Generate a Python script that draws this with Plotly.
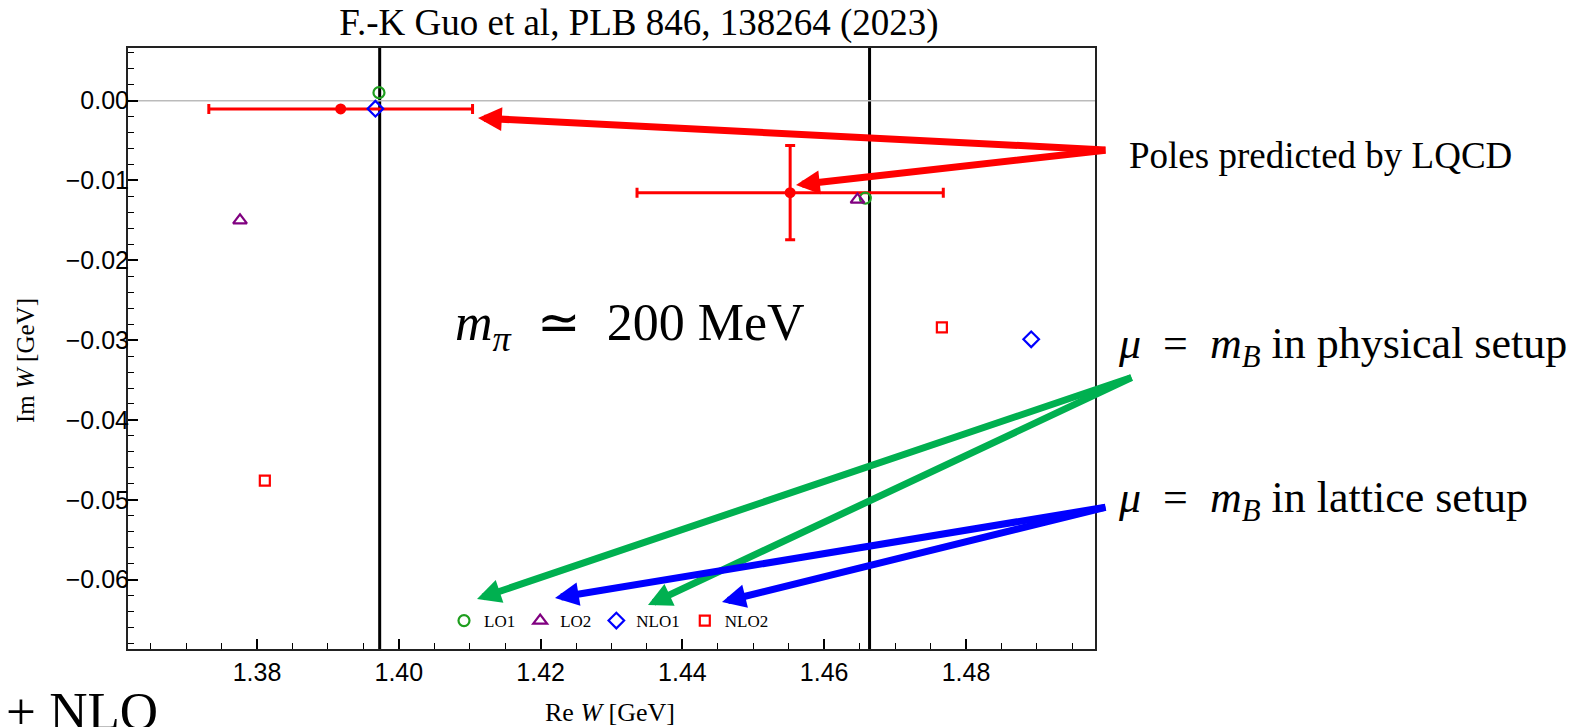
import plotly.graph_objects as go

# ---------------- data ----------------
pole_re = [1.3918, 1.4552]
pole_im = [-0.00104, -0.01153]
pole_re_err = [0.0186, 0.0216]
pole_im_err = [0.0, 0.0059]

series_names = ["LO1", "LO2", "NLO1", "NLO2"]
lo1_re = [1.3972, 1.4658]
lo1_im = [0.0010, -0.0122]
lo2_re = [1.3776, 1.4647]
lo2_im = [-0.0150, -0.0124]
nlo1_re = [1.3967, 1.4892]
nlo1_im = [-0.0010, -0.0299]
nlo2_re = [1.3811, 1.4766]
nlo2_im = [-0.0476, -0.0284]

thresholds_re = [1.3973, 1.4664]

x_tick_vals = [1.38, 1.40, 1.42, 1.44, 1.46, 1.48]
x_tick_text = ["1.38", "1.40", "1.42", "1.44", "1.46", "1.48"]
y_tick_vals = [0.00, -0.01, -0.02, -0.03, -0.04, -0.05, -0.06]
y_tick_text = ["0.00", "\u22120.01", "\u22120.02", "\u22120.03", "\u22120.04", "\u22120.05", "\u22120.06"]

x_range = [1.3618, 1.4982]
y_range = [-0.0687, 0.0066]

# ---------------- layout helpers ----------------
W, H = 1576, 727
L, R, T, B = 128, 1095, 48, 649


def fx(px):
    return (px - L) / (R - L)


def fy(py):
    return (B - py) / (B - T)


SERIF = "Liberation Serif, Times New Roman, serif"
SANS = "Liberation Sans, Arial, sans-serif"

fig = go.Figure()

for t in thresholds_re:
    fig.add_vline(x=t, line=dict(color="black", width=3), layer="below")
fig.add_hline(y=0, line=dict(color="#BBBBBB", width=1.5), layer="below")

for i in range(len(pole_re)):
    fig.add_trace(go.Scatter(
        x=[pole_re[i]], y=[pole_im[i]], mode="markers", showlegend=False,
        marker=dict(color="#FF0000", size=11, symbol="circle"),
        error_x=dict(type="data", array=[pole_re_err[i]], color="#FF0000",
                     thickness=3, width=5),
        error_y=dict(type="data", array=[pole_im_err[i]], color="#FF0000",
                     thickness=3, width=5, visible=pole_im_err[i] > 0),
    ))

styles = [
    ("circle-open", "#1E9E1E", 11),
    ("triangle-up-open", "#800080", 12),
    ("diamond-open", "#0000FF", 12),
    ("square-open", "#FF0000", 10),
]
values = [(lo1_re, lo1_im), (lo2_re, lo2_im), (nlo1_re, nlo1_im), (nlo2_re, nlo2_im)]
for name, (xs, ys), (sym, col, sz) in zip(series_names, values, styles):
    fig.add_trace(go.Scatter(
        x=xs, y=ys, mode="markers", name=name,
        marker=dict(symbol=sym, color=col, size=sz, line=dict(color=col, width=2.2)),
    ))

# arrows (tip pixel, tail pixel, colour)
arrows = [
    ((478, 118), (1107, 150), "#FF0000"),
    ((796, 185), (1107, 150), "#FF0000"),
    ((477, 599), (1133, 377), "#00B050"),
    ((648, 605), (1133, 377), "#00B050"),
    ((555, 598), (1107, 507), "#0000FF"),
    ((722, 602), (1107, 507), "#0000FF"),
]
annotations = []
for (tx, ty), (sx, sy), col in arrows:
    annotations.append(dict(
        x=fx(tx), y=fy(ty), xref="x domain", yref="y domain",
        ax=fx(sx), ay=fy(sy), axref="x domain", ayref="y domain",
        text="", showarrow=True, arrowhead=2, arrowsize=0.68,
        arrowwidth=7, arrowcolor=col, standoff=0,
    ))

SP = "\u2002"
texts = [
    ("Poles predicted by LQCD", 1127, 156, 37),
    ("<i>μ</i>" + SP + "=" + SP + "<i>m</i><sub><i>B</i></sub> in physical setup", 1116, 346, 44),
    ("<i>μ</i>" + SP + "=" + SP + "<i>m</i><sub><i>B</i></sub> in lattice setup", 1116, 500, 44),
]
for txt, px, py, fs in texts:
    annotations.append(dict(
        x=fx(px), y=fy(py), xref="paper", yref="paper", xanchor="left",
        yanchor="middle", text=txt, showarrow=False,
        font=dict(family=SERIF, size=fs, color="black"),
    ))

annotations.append(dict(
    x=fx(630), y=fy(326), xref="paper", yref="paper", xanchor="center",
    yanchor="middle", text="<i>m</i><sub><i>π</i></sub>" + SP + "≃" + SP + "200 MeV",
    showarrow=False, font=dict(family=SERIF, size=52, color="black"),
))
annotations.append(dict(
    x=fx(4), y=fy(711), xref="paper", yref="paper", xanchor="left",
    yanchor="middle", text="+ NLO", showarrow=False,
    font=dict(family=SERIF, size=53, color="black"),
))
# axis titles
annotations.append(dict(
    x=fx(610), y=fy(712), xref="paper", yref="paper", xanchor="center",
    yanchor="middle", text="Re <i>W</i> [GeV]", showarrow=False,
    font=dict(family=SERIF, size=26, color="black"),
))
annotations.append(dict(
    x=fx(25), y=fy(361), xref="paper", yref="paper", xanchor="center",
    yanchor="middle", text="Im <i>W</i> [GeV]", showarrow=False, textangle=-90,
    font=dict(family=SERIF, size=25, color="black"),
))

fig.update_layout(
    width=W, height=H,
    margin=dict(l=L, r=W - R, t=T, b=H - B, pad=0),
    paper_bgcolor="white", plot_bgcolor="white",
    title=dict(text="F.-K Guo et al, PLB 846, 138264 (2023)", x=639 / W, xref="container",
               xanchor="center", y=1 - 22 / H, yref="container", yanchor="middle",
               font=dict(family=SERIF, size=37, color="black")),
    legend=dict(orientation="h", x=fx(444), xanchor="left", y=fy(621), yanchor="middle",
                bgcolor="rgba(0,0,0,0)", font=dict(family=SERIF, size=17, color="black"),
                itemwidth=30, tracegroupgap=0),
    annotations=annotations,
    xaxis=dict(
        range=x_range, tickvals=x_tick_vals, ticktext=x_tick_text,
        ticks="inside", ticklen=10, tickwidth=1.5, tickcolor="black",
        minor=dict(dtick=0.005, tick0=1.38, ticks="inside", ticklen=6, tickwidth=1.2,
                   tickcolor="black", showgrid=False),
        showline=True, linecolor="#222222", linewidth=2, mirror=True,
        showgrid=False, zeroline=False,
        tickfont=dict(family=SANS, size=25, color="black"),
    ),
    yaxis=dict(
        range=y_range, tickvals=y_tick_vals, ticktext=y_tick_text,
        ticks="inside", ticklen=10, tickwidth=1.5, tickcolor="black",
        minor=dict(dtick=0.002, tick0=0, ticks="inside", ticklen=6, tickwidth=1.2,
                   tickcolor="black", showgrid=False),
        showline=True, linecolor="#222222", linewidth=2, mirror=True,
        showgrid=False, zeroline=False,
        tickfont=dict(family=SANS, size=25, color="black"),
        ticklabelposition="outside",
        ticklabelstandoff=-8,
    ),
)

fig.write_html("out.html")
